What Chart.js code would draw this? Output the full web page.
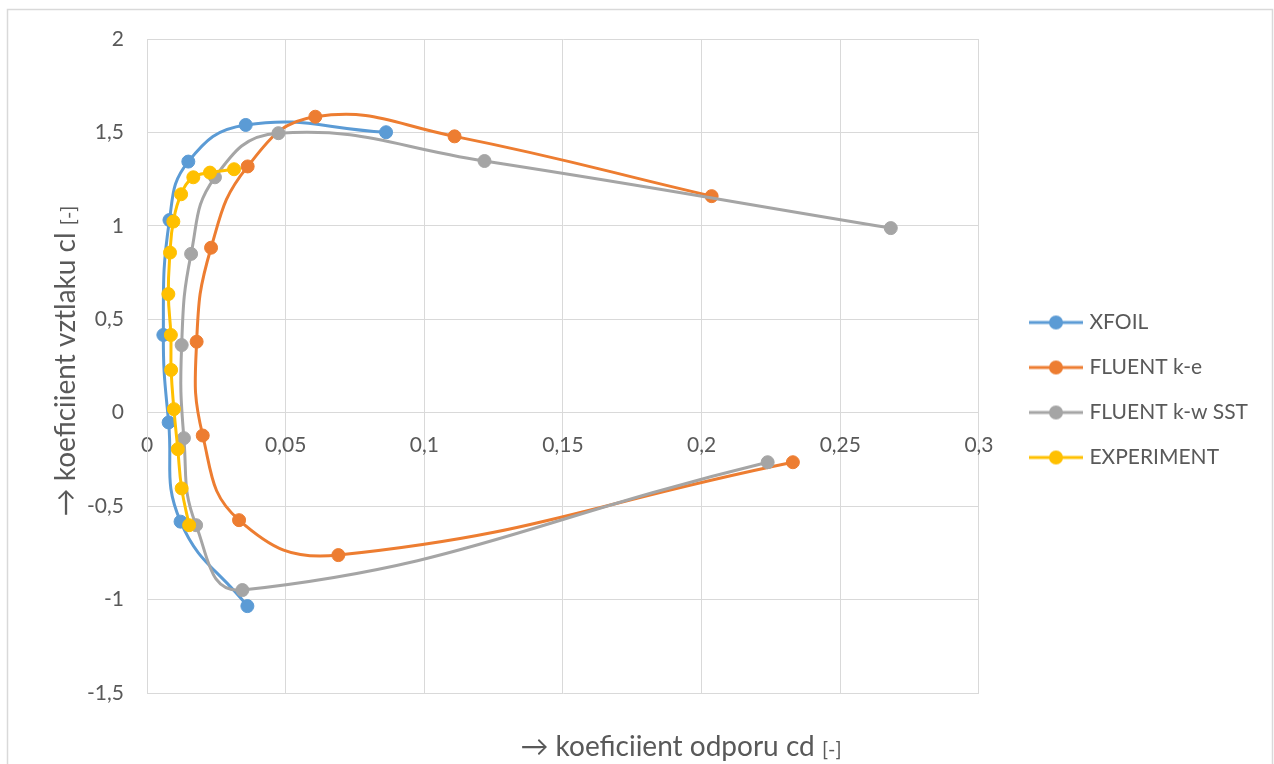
<!DOCTYPE html>
<html lang="cs">
<head>
    <meta charset="UTF-8">
    <title>cl - cd</title>
    <script src="https://cdn.jsdelivr.net/npm/chart.js"></script>
    <style>
        html, body {
            margin: 0;
            padding: 0;
            background: #fff;
        }

        .chart-box {
            position: relative;
            width: 1274px;
            height: 764px;
        }
    </style>
</head>
<body>
    <div class="chart-box">
        <canvas id="polarChart"></canvas>
    </div>

    <script>
        // series (cd, cl)
        const xfoilCd = [0.0362, 0.0121, 0.0078, 0.0059, 0.0081, 0.0149, 0.0356, 0.0862];
        const xfoilCl = [-1.035, -0.583, -0.052, 0.416, 1.031, 1.344, 1.540, 1.501];

        const keCd = [0.2329, 0.0690, 0.0332, 0.0201, 0.0179, 0.0231, 0.0363, 0.0607, 0.1109, 0.2036];
        const keCl = [-0.265, -0.762, -0.575, -0.122, 0.380, 0.883, 1.318, 1.584, 1.479, 1.159];

        const kwCd = [0.2238, 0.0344, 0.0177, 0.0133, 0.0125, 0.0159, 0.0245, 0.0474, 0.1217, 0.2682];
        const kwCl = [-0.265, -0.949, -0.602, -0.136, 0.362, 0.850, 1.260, 1.496, 1.347, 0.988];

        const expCd = [0.0152, 0.0125, 0.0111, 0.0097, 0.0087, 0.0086, 0.0077, 0.0083, 0.0095, 0.0123, 0.0167, 0.0227, 0.0314];
        const expCl = [-0.602, -0.405, -0.195, 0.019, 0.229, 0.416, 0.635, 0.857, 1.023, 1.169, 1.260, 1.285, 1.303];

        const seriesNames = ['XFOIL', 'FLUENT k-e', 'FLUENT k-w SST', 'EXPERIMENT'];
        const seriesColors = ['#5B9BD5', '#ED7D31', '#A5A5A5', '#FFC000'];

        const xTitle = '\u2192 koeficiient odporu cd';
        const yTitle = '\u2192 koeficiient vztlaku cl';
        const unitText = '[-]';

        const fontFamily = 'Lato, "Noto Sans", sans-serif';
        const textColor = '#595959';
        const gridColor = '#d9d9d9';

        function toPoints(xs, ys) {
            return xs.map((x, i) => ({ x: x, y: ys[i] }));
        }

        function commaNum(v) {
            return String(Math.round(v * 1000) / 1000).replace('.', ',');
        }

        // legend icon: short line with a dot in the middle (right part of the canvas)
        function legendIcon(color) {
            const c = document.createElement('canvas');
            c.width = 84;
            c.height = 16;
            const g = c.getContext('2d');
            g.strokeStyle = color;
            g.lineWidth = 3;
            g.beginPath();
            g.moveTo(30, 8);
            g.lineTo(84, 8);
            g.stroke();
            g.fillStyle = color;
            g.beginPath();
            g.arc(57, 8, 7, 0, Math.PI * 2);
            g.fill();
            return c;
        }
        const legendIcons = seriesColors.map(legendIcon);

        // draws the outer frame and both axis titles
        const framePlugin = {
            id: 'framePlugin',
            beforeDraw(chart) {
                const ctx = chart.ctx;
                ctx.save();
                ctx.strokeStyle = gridColor;
                ctx.lineWidth = 1.5;
                ctx.strokeRect(7.5, 9.5, 1265, 800);
                ctx.restore();
            },
            afterDraw(chart) {
                const ctx = chart.ctx;
                function titleAt(text, cx, baseY) {
                    ctx.font = '28px ' + fontFamily;
                    const w1 = ctx.measureText(text + ' ').width;
                    ctx.font = '20px ' + fontFamily;
                    const w2 = ctx.measureText(unitText).width;
                    let x = cx - (w1 + w2) / 2;
                    ctx.font = '28px ' + fontFamily;
                    ctx.fillText(text + ' ', x, baseY);
                    ctx.font = '20px ' + fontFamily;
                    ctx.fillText(unitText, x + w1, baseY);
                }
                ctx.save();
                ctx.fillStyle = textColor;
                ctx.textBaseline = 'alphabetic';
                ctx.textAlign = 'left';
                titleAt(xTitle, 681, 756);
                ctx.translate(75, 361);
                ctx.rotate(-Math.PI / 2);
                titleAt(yTitle, 0, 0);
                ctx.restore();
            }
        };

        const allCd = [xfoilCd, keCd, kwCd, expCd];
        const allCl = [xfoilCl, keCl, kwCl, expCl];

        const datasets = seriesNames.map((name, i) => ({
            label: name,
            data: toPoints(allCd[i], allCl[i]),
            borderColor: seriesColors[i],
            backgroundColor: seriesColors[i],
            pointBackgroundColor: seriesColors[i],
            pointBorderColor: seriesColors[i],
            borderWidth: 3,
            pointRadius: 6.5,
            pointBorderWidth: 1,
            showLine: true,
            tension: 0.45,
            order: 4 - i // later series on top, like the original
        }));

        const ctx = document.getElementById('polarChart').getContext('2d');
        const polarChart = new Chart(ctx, {
            type: 'scatter',
            data: { datasets: datasets },
            plugins: [framePlugin],
            options: {
                responsive: true,
                maintainAspectRatio: false,
                animation: false,
                layout: {
                    padding: { top: 39, right: 16, bottom: 23, left: 0 }
                },
                scales: {
                    x: {
                        type: 'linear',
                        position: { y: 0 },
                        min: 0,
                        max: 0.3,
                        ticks: {
                            stepSize: 0.05,
                            padding: 20,
                            color: textColor,
                            font: { family: fontFamily, size: 21 },
                            callback: v => commaNum(v)
                        },
                        grid: { color: gridColor, drawTicks: false },
                        border: { color: gridColor }
                    },
                    // empty bottom band that keeps room for the x title
                    xBand: {
                        type: 'linear',
                        position: 'bottom',
                        min: 0,
                        max: 0.3,
                        afterFit(scale) { scale.height = 48; },
                        ticks: { display: false },
                        grid: { display: false },
                        border: { display: false }
                    },
                    y: {
                        type: 'linear',
                        min: -1.5,
                        max: 2,
                        afterFit(scale) { scale.width = 147; },
                        ticks: {
                            stepSize: 0.5,
                            padding: 23,
                            color: textColor,
                            font: { family: fontFamily, size: 21 },
                            callback: v => commaNum(v)
                        },
                        grid: { color: gridColor, drawTicks: false },
                        border: { color: gridColor }
                    }
                },
                plugins: {
                    tooltip: { enabled: false },
                    legend: {
                        position: 'right',
                        labels: {
                            usePointStyle: true,
                            pointStyleWidth: 76,
                            boxHeight: 18,
                            padding: 24,
                            color: textColor,
                            font: { family: fontFamily, size: 21 },
                            generateLabels(chart) {
                                return chart.data.datasets.map((ds, i) => ({
                                    text: ds.label,
                                    pointStyle: legendIcons[i],
                                    fillStyle: seriesColors[i],
                                    strokeStyle: seriesColors[i],
                                    fontColor: textColor,
                                    lineWidth: 0,
                                    hidden: false,
                                    datasetIndex: i
                                }));
                            }
                        }
                    }
                }
            }
        });
    </script>
</body>
</html>
